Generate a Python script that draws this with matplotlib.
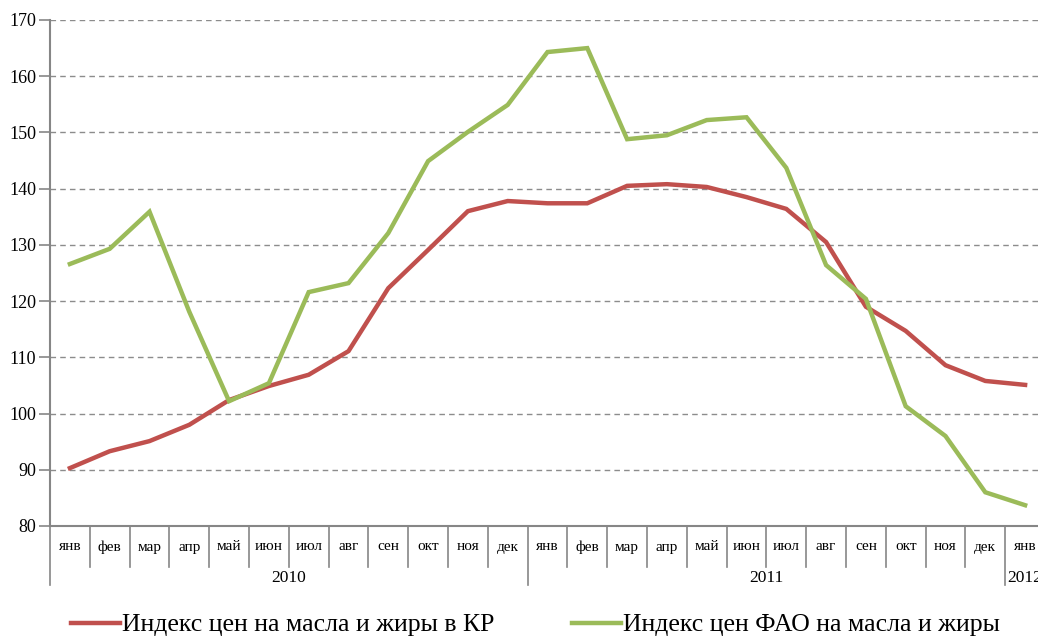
import matplotlib
matplotlib.use("Agg")
import matplotlib.pyplot as plt
from matplotlib.lines import Line2D
import numpy as np

plt.rcParams.update({
    "font.family": ["Liberation Serif", "DejaVu Serif"],
})

MONTHS = ["янв", "фев", "мар", "апр", "май", "июн", "июл", "авг", "сен",
          "окт", "ноя", "дек"] * 2 + ["янв"]
YEARS = ["2010", "2011", "2012"]
YEAR_SPANS = [(0, 12), (12, 24), (24, 25)]

KR = [90.3, 93.3, 95.1, 98.0, 102.4, 104.9, 106.9, 111.1, 122.3, 129.1, 136.0, 137.8,
      137.4, 137.4, 140.5, 140.8, 140.3, 138.5, 136.4, 130.5, 119.0, 114.7, 108.6, 105.8,
      105.1]
FAO = [126.6, 129.3, 135.9, 118.1, 102.2, 105.4, 121.6, 123.2, 132.1, 144.9, 150.1, 154.9,
       164.3, 165.0, 148.8, 149.5, 152.2, 152.7, 143.7, 126.4, 120.4, 101.3, 96.0, 86.0,
       83.7]

LABELS = ["Индекс цен на масла и жиры в КР", "Индекс цен ФАО на масла и жиры"]
COLORS = ["#C0504D", "#9BBB59"]
AXIS_GREY = "#868686"

W, H = 1038, 638
fig = plt.figure(figsize=(W / 100, H / 100), dpi=100)
left, right, top, bottom = 50, 1045, 20, 526
ax = fig.add_axes([left / W, 1 - bottom / H, (right - left) / W, (bottom - top) / H])

x = np.arange(len(MONTHS))
ax.plot(x, KR, color=COLORS[0], lw=3.2, solid_joinstyle="miter", zorder=3)
ax.plot(x, FAO, color=COLORS[1], lw=3.2, solid_joinstyle="miter", zorder=3)

ax.set_xlim(-0.5, len(MONTHS) - 0.5)
ax.set_ylim(80, 170)
ax.set_yticks(range(80, 171, 10))
ax.tick_params(axis="y", labelsize=13, length=8, width=1.2, color=AXIS_GREY, pad=2)
ax.set_xticks([])
ax.grid(axis="y", color="#8c8c8c", lw=1.0, ls=(0, (4, 3)))
ax.set_axisbelow(True)
for s in ["top", "right"]:
    ax.spines[s].set_visible(False)
for s in ["left", "bottom"]:
    ax.spines[s].set_color(AXIS_GREY)
    ax.spines[s].set_linewidth(1.5)

# multi-level category axis (months / years)
tr = ax.get_xaxis_transform()
month_bot = -(567 - bottom) / (bottom - top)
year_bot = -(585 - bottom) / (bottom - top)
for i in range(len(MONTHS) + 1):
    b = i - 0.5
    is_year = any(b == s - 0.5 for s, _ in YEAR_SPANS)
    ax.plot([b, b], [0, year_bot if is_year else month_bot], transform=tr,
            color=AXIS_GREY, lw=1.2, clip_on=False)
for i, m in enumerate(MONTHS):
    ax.text(i, -(547 - bottom) / (bottom - top), m, transform=tr, ha="center",
            va="center", fontsize=11)
for yr, (s, e) in zip(YEARS, YEAR_SPANS):
    ax.text((s + e - 1) / 2, -(578 - bottom) / (bottom - top), yr, transform=tr,
            ha="center", va="center", fontsize=12.5)

handles = [Line2D([], [], color=c, lw=3.2) for c in COLORS]
fig.legend(handles, LABELS, loc="center", bbox_to_anchor=(0.516, 1 - 625 / H),
           ncol=2, frameon=False, fontsize=18.5, handlelength=1.9,
           handletextpad=0.1, columnspacing=3.0)

fig.savefig("out.png", dpi=100)
